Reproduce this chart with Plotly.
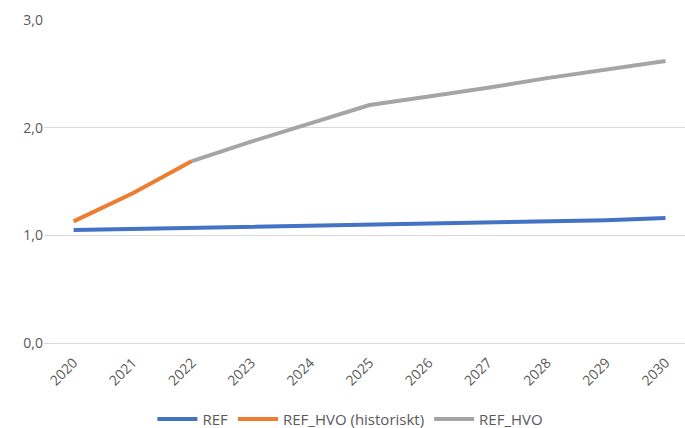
import plotly.graph_objects as go

years = [2020, 2021, 2022, 2023, 2024, 2025, 2026, 2027, 2028, 2029, 2030]
ref = [1.05, 1.06, 1.07, 1.08, 1.09, 1.10, 1.11, 1.12, 1.13, 1.14, 1.16]
ref_hvo_hist = [1.13, 1.39, 1.69, None, None, None, None, None, None, None, None]
ref_hvo = [None, None, 1.69, 1.87, 2.04, 2.21, 2.29, 2.37, 2.46, 2.54, 2.62]
y_ticks = [0, 1, 2, 3]
y_tick_labels = ["0,0", "1,0", "2,0", "3,0"]

idx = list(range(len(years)))
text_color = "#595959"
family = "Open Sans, Liberation Sans, sans-serif"
font = dict(family=family, size=13, color=text_color)

fig = go.Figure()
fig.add_trace(go.Scatter(x=idx, y=ref, name="REF", mode="lines",
                         line=dict(color="#4472C4", width=4)))
fig.add_trace(go.Scatter(x=idx, y=ref_hvo_hist, name="REF_HVO (historiskt)", mode="lines",
                         line=dict(color="#ED7D31", width=4)))
fig.add_trace(go.Scatter(x=idx, y=ref_hvo, name="REF_HVO", mode="lines",
                         line=dict(color="#A5A5A5", width=4)))

fig.update_layout(
    width=685, height=428,
    margin=dict(l=44, r=0, t=20, b=85, autoexpand=False),
    plot_bgcolor="white", paper_bgcolor="white",
    font=font,
    showlegend=True,
    legend=dict(orientation="h", x=0.478, xanchor="center", xref="paper",
                y=-0.185, yanchor="top",
                font=dict(family=family, size=15, color=text_color),
                itemwidth=40, traceorder="normal"),
    xaxis=dict(range=[-0.5, 10.33], tickvals=idx, ticktext=[str(y) for y in years],
               tickangle=-45, showgrid=False, zeroline=False, showline=False,
               ticks="outside", ticklen=5, tickcolor="rgba(0,0,0,0)",
               tickfont=dict(family=family, size=14, color=text_color),
               automargin=False),
    yaxis=dict(range=[0, 3], tickvals=y_ticks, ticktext=y_tick_labels,
               showgrid=True, gridcolor="#D9D9D9", gridwidth=1,
               zeroline=True, zerolinecolor="#D9D9D9", zerolinewidth=1,
               showline=False, ticks="", automargin=False,
               tickfont=dict(family=family, size=14, color=text_color)),
)

fig.write_html("out.html")
